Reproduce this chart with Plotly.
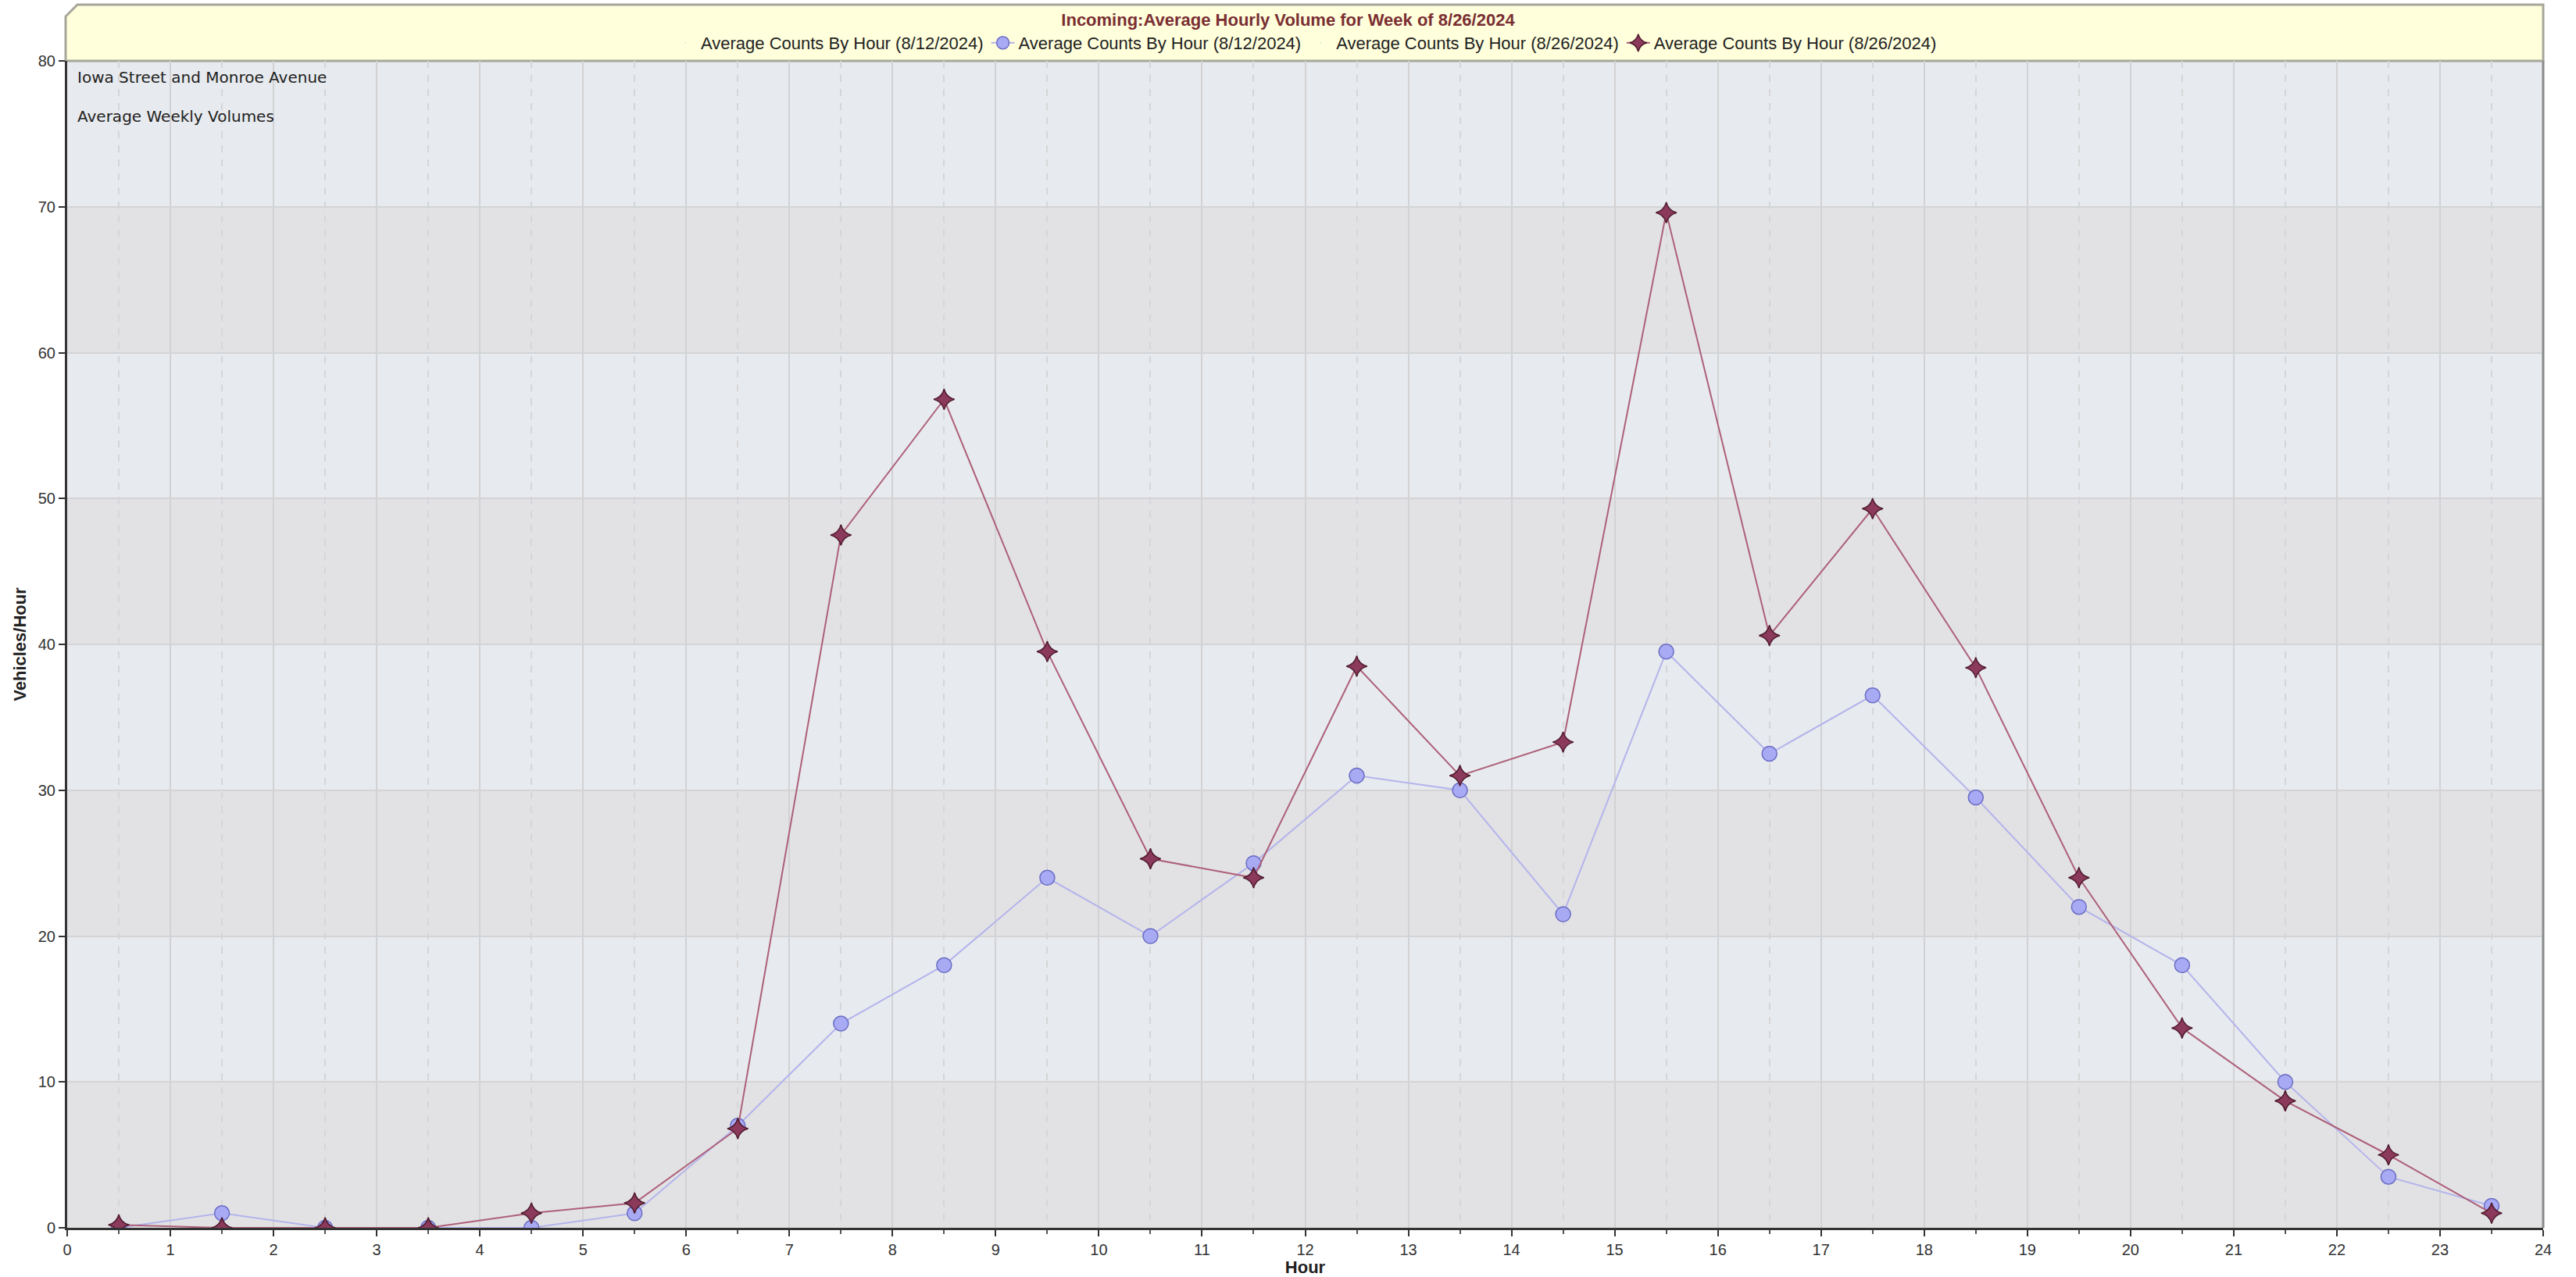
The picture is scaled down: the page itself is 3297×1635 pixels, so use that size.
import plotly.graph_objects as go

hours = [0.5, 1.5, 2.5, 3.5, 4.5, 5.5, 6.5, 7.5, 8.5, 9.5, 10.5, 11.5,
         12.5, 13.5, 14.5, 15.5, 16.5, 17.5, 18.5, 19.5, 20.5, 21.5, 22.5, 23.5]
counts_0812 = [0, 1, 0, 0, 0, 1, 7, 14, 18, 24, 20, 25,
               31, 30, 21.5, 39.5, 32.5, 36.5, 29.5, 22, 18, 10, 3.5, 1.5]
counts_0826 = [0.2, 0, 0, 0, 1, 1.7, 6.8, 47.5, 56.8, 39.5, 25.3, 24,
               38.5, 31, 33.3, 69.6, 40.6, 49.3, 38.4, 24, 13.7, 8.7, 5, 1]
name_0812 = "Average Counts By Hour (8/12/2024)"
name_0826 = "Average Counts By Hour (8/26/2024)"
title_text = "Incoming:Average Hourly Volume for Week of 8/26/2024"
y_ticks = [0, 10, 20, 30, 40, 50, 60, 70, 80]
x_ticks = list(range(0, 25))

W, H = 3297, 1635
ML, MR, MT, MB = 86, 42, 78, 63

fig = go.Figure()

# dummy legend entries (label text preceding each symbol)
fig.add_trace(go.Scatter(x=[None], y=[None], mode="markers", name=name_0812,
                         marker=dict(size=1, opacity=0), hoverinfo="skip"))
fig.add_trace(go.Scatter(x=hours, y=counts_0812, mode="lines+markers", name=name_0812,
                         line=dict(color="#b4b4ec", width=2),
                         marker=dict(symbol="circle", size=19, color="#a8aaf4",
                                     line=dict(color="#6a6cc4", width=1.5))))
fig.add_trace(go.Scatter(x=[None], y=[None], mode="markers", name=name_0826,
                         marker=dict(size=1, opacity=0), hoverinfo="skip"))
fig.add_trace(go.Scatter(x=hours, y=counts_0826, mode="lines+markers", name=name_0826,
                         line=dict(color="#ad6079", width=2),
                         marker=dict(symbol="star-diamond", size=19, color="#8c3a5c",
                                     line=dict(color="#4e1a2c", width=1.5))))

shapes = []
# alternating bands
for lo in range(0, 80, 20):
    shapes.append(dict(type="rect", xref="paper", yref="y", x0=0, x1=1, y0=lo, y1=lo + 10,
                       fillcolor="#e2e2e4", line=dict(width=0), layer="below"))

plot_h = H - MT - MB
plot_w = W - ML - MR
top = 1 + (MT - 6) / plot_h
dx = 15 / plot_w
dy = 15 / plot_h
x0 = -2 / plot_w
shapes.append(dict(type="path", xref="paper", yref="paper",
                   path=f"M {x0},1 L {x0},{top-dy} L {x0+dx},{top} L 1,{top} L 1,1 Z",
                   fillcolor="#ffffdc", line=dict(color="#a6a69a", width=3), layer="below"))
# right border
shapes.append(dict(type="line", xref="paper", yref="paper", x0=1, x1=1, y0=0, y1=1,
                   line=dict(color="#8a8a8a", width=3), layer="above"))

fig.update_layout(
    width=W, height=H,
    margin=dict(l=ML, r=MR, t=MT, b=MB, autoexpand=False),
    paper_bgcolor="white",
    plot_bgcolor="#e7eaee",
    font=dict(family="Liberation Sans, Arial, sans-serif", size=20, color="#222"),
    title=dict(text="<b>" + title_text + "</b>", x=0.5, xanchor="center",
               y=1 - 25 / H, yanchor="middle",
               font=dict(size=22, color="#7a2e32", family="Liberation Sans, Arial, sans-serif")),
    legend=dict(orientation="h", x=0.5, xanchor="center", yref="container", y=1 - 55 / H,
                yanchor="middle", bgcolor="rgba(0,0,0,0)", font=dict(size=22, color="#222"),
                itemwidth=30, tracegroupgap=0),
    shapes=shapes,
    showlegend=True,
    xaxis=dict(range=[0, 24], tickvals=x_ticks, ticks="outside", ticklen=8, tickwidth=2,
               tickcolor="#333", showline=True, linecolor="#333", linewidth=3,
               showgrid=True, gridcolor="#d2d2d4", gridwidth=2, zeroline=False,
               tickfont=dict(size=20, color="#333"), automargin=False,
               minor=dict(dtick=0.5, tick0=0, ticks="outside", ticklen=5, tickcolor="#555",
                          showgrid=True, gridcolor="#d6d6d8", griddash="dash", gridwidth=1.5),
               title=dict(text="<b>Hour</b>", font=dict(size=22, color="#222"), standoff=4)),
    yaxis=dict(range=[0, 80], tickvals=y_ticks, ticks="outside", ticklen=8, tickwidth=2,
               tickcolor="#333", showline=True, linecolor="#333", linewidth=3,
               showgrid=True, gridcolor="#d4d4d6", gridwidth=2, zeroline=False,
               tickfont=dict(size=20, color="#333"), automargin=False,
               title=dict(text="<b>Vehicles/Hour</b>", font=dict(size=22, color="#222"), standoff=10)),
    annotations=[
        dict(text="Iowa Street and Monroe Avenue", xref="paper", yref="paper",
             x=11 / plot_w, y=1 - 21 / plot_h, xanchor="left", yanchor="middle",
             showarrow=False, font=dict(family="DejaVu Sans, Verdana, sans-serif", size=20, color="#222")),
        dict(text="Average Weekly Volumes", xref="paper", yref="paper",
             x=11 / plot_w, y=1 - 71 / plot_h, xanchor="left", yanchor="middle",
             showarrow=False, font=dict(family="DejaVu Sans, Verdana, sans-serif", size=20, color="#222")),
    ],
)

fig.write_html("out.html", config={"displayModeBar": False},
               post_script="document.body.style.margin='0';document.body.style.overflow='hidden';")
